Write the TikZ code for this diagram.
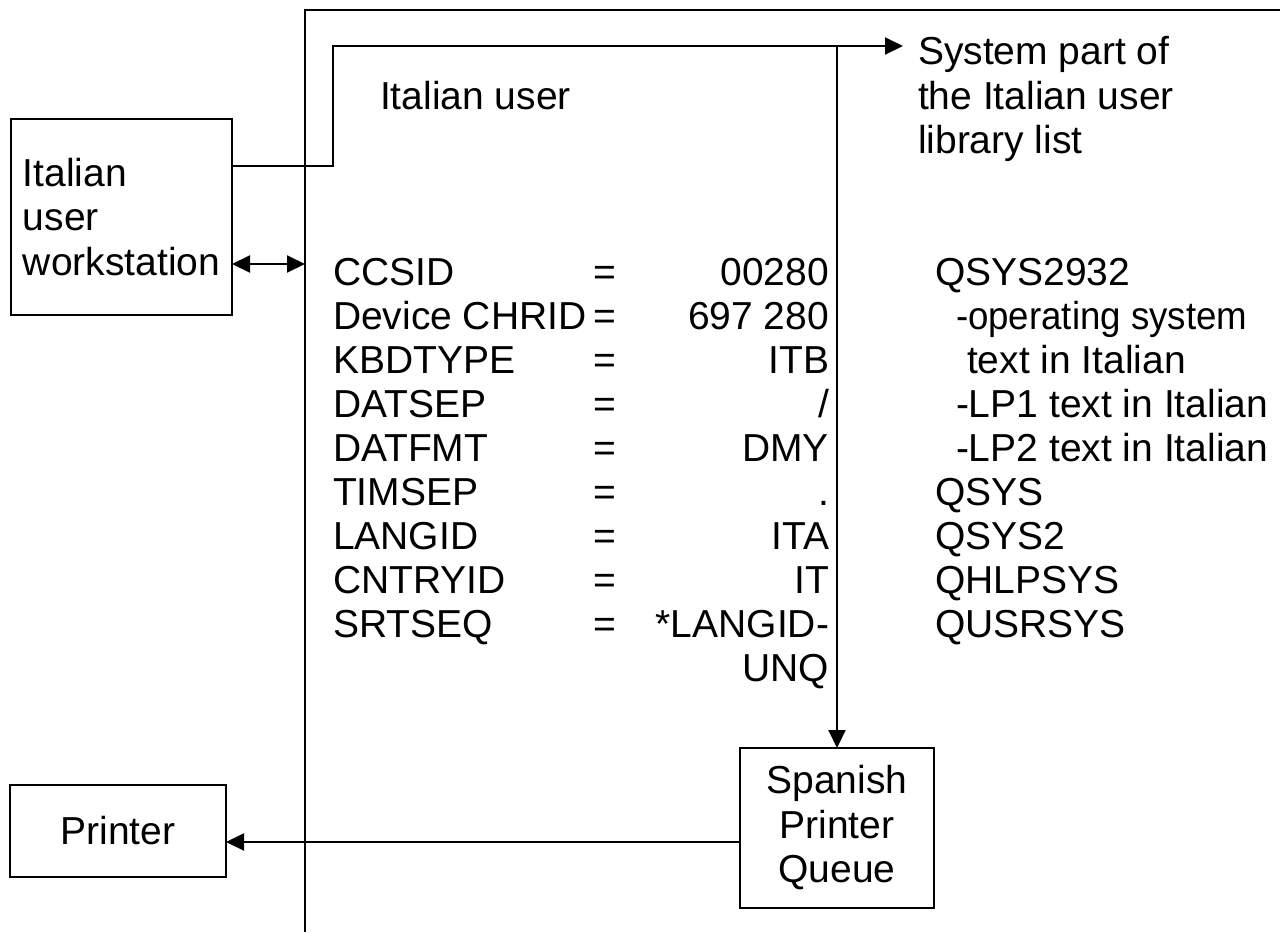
\documentclass[tikz,border=0pt]{standalone}
\usepackage{fontspec}
\setmainfont{Liberation Sans}
\usepackage{graphicx}
\usetikzlibrary{arrows.meta}
\begin{document}
\begin{tikzpicture}[x=1pt,y=-1pt, line width=2pt,
  every node/.style={font=\fontsize{39pt}{44.5pt}\selectfont, inner sep=0pt, outer sep=0pt},
  box/.style={draw, line width=2pt},
  arr/.style={-{Triangle[length=18pt,width=17pt]}},
  darr/.style={{Triangle[length=18pt,width=17pt]}-{Triangle[length=18pt,width=17pt]}},
  txt/.style={anchor=base west},
  val/.style={anchor=base east}]
\useasboundingbox (0,0) rectangle (1280,932);

% frame of the Italian user area
\coordinate (frtop) at (305,10);
\coordinate (frbot) at (305,932);
\coordinate (frright) at (1280,10);
\draw (frbot) -- (frtop) -- (frright);

% boxes
\node[box, align=left, minimum width=221pt, minimum height=196pt] (ws) at (121.5,217) {Italian\\user\\workstation};
\node[box, align=center, minimum width=216pt, minimum height=92pt] (pr) at (118,831) {Printer};
\node[box, align=center, minimum width=194pt, minimum height=160pt] (spq) at (837,828) {Spanish\\Printer\\Queue};

% labels
\node[txt] (iu) at (380,109) {Italian user};
\node[anchor=north west, align=left] (sys) at (918,36.5) {System part of\\the Italian user\\library list};

% connectors
\coordinate (bend1) at (333,166);
\coordinate (bend2) at (333,46);
\coordinate (systip) at (903,46);
\coordinate (branch) at (837,46);
\coordinate (frmid) at (305,264);
\draw[arr] ([yshift=-47pt]ws.north east) -- (bend1) -- (bend2) -- (systip);
\draw[arr] (branch) -- (spq.north);
\draw[darr] ([yshift=-47pt]ws.east) -- (frmid);
\draw[arr] ([yshift=-14pt]spq.west) -- ([yshift=-14pt]spq.west -| pr.east);

% table
\foreach \t [count=\i] in {CCSID, Device CHRID, KBDTYPE, DATSEP, DATFMT, TIMSEP, LANGID, CNTRYID, SRTSEQ}
  \node[txt] (k\i) at (333,{285+44*(\i-1)}) {\t};
\foreach \i in {1,...,9}
  \node[txt] (e\i) at (593,{285+44*(\i-1)}) {=};
\foreach \v [count=\i] in {00280, 697 280, ITB, /, DMY, ., ITA, IT, *LANGID-, UNQ}
  \node[val] (v\i) at (829,{285+44*(\i-1)}) {\v};

% right column
\node[txt] (r1) at (935,285) {QSYS2932};
\node[txt] (r2) at (956,329) {\scalebox{0.94}[1]{-operating system}};
\node[txt] (r3) at (967,373) {text in Italian};
\node[txt] (r4) at (956,417) {-LP1 text in Italian};
\node[txt] (r5) at (956,461) {-LP2 text in Italian};
\node[txt] (r6) at (935,505) {QSYS};
\node[txt] (r7) at (935,549) {QSYS2};
\node[txt] (r8) at (935,593) {QHLPSYS};
\node[txt] (r9) at (935,637) {QUSRSYS};
\end{tikzpicture}
\end{document}
